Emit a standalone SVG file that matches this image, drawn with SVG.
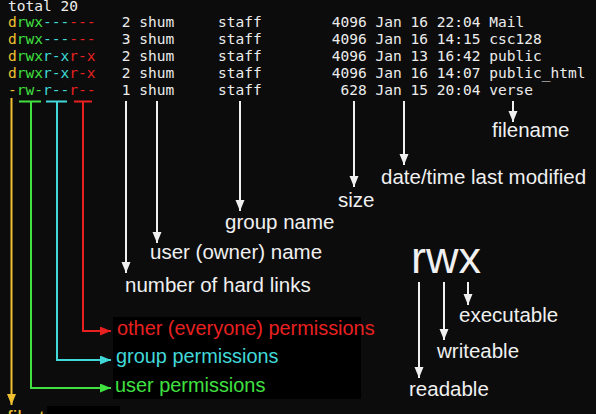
<svg xmlns="http://www.w3.org/2000/svg" width="596" height="414" viewBox="0 0 596 414">
<style>
.term{font-family:"DejaVu Sans Mono","Liberation Mono",monospace;font-size:14.53px;fill:#ececec}
.y{fill:#f0c030}.g{fill:#40e040}.c{fill:#40d8d8}.r{fill:#e82020}
.lbl{font-family:"Liberation Sans",Arial,sans-serif;font-size:20.5px;fill:#f0f0f0}
.wl{stroke:#f0f0f0;stroke-width:2;fill:none}
</style>
<defs>
<marker id="aw" markerUnits="userSpaceOnUse" markerWidth="12" markerHeight="10" refX="11" refY="4.5" orient="auto"><path d="M0,0 L11,4.5 L0,9 z" fill="#f0f0f0"/></marker>
<marker id="ay" markerUnits="userSpaceOnUse" markerWidth="12" markerHeight="10" refX="11" refY="4.5" orient="auto"><path d="M0,0 L11,4.5 L0,9 z" fill="#f0c030"/></marker>
<marker id="ag" markerUnits="userSpaceOnUse" markerWidth="12" markerHeight="10" refX="11" refY="4.5" orient="auto"><path d="M0,0 L11,4.5 L0,9 z" fill="#40e040"/></marker>
<marker id="ac" markerUnits="userSpaceOnUse" markerWidth="12" markerHeight="10" refX="11" refY="4.5" orient="auto"><path d="M0,0 L11,4.5 L0,9 z" fill="#40d8d8"/></marker>
<marker id="ar" markerUnits="userSpaceOnUse" markerWidth="12" markerHeight="10" refX="11" refY="4.5" orient="auto"><path d="M0,0 L11,4.5 L0,9 z" fill="#e82020"/></marker>
</defs>
<rect x="0" y="0" width="596" height="414" fill="#0c0c0c"/>
<rect x="113" y="317" width="248" height="82" fill="#000"/>
<rect x="47" y="406" width="73" height="8" fill="#000"/>

<g id="listing" class="term">
<text x="8" y="11">total 20</text>
<text y="26.7"><tspan x="8" class="y">d</tspan><tspan class="g">rwx</tspan><tspan class="c">---</tspan><tspan class="r">---</tspan><tspan x="121.75">2</tspan><tspan x="139.25">shum</tspan><tspan x="218">staff</tspan><tspan x="331.75">4096</tspan><tspan x="375.5">Jan</tspan><tspan x="410.5">16</tspan><tspan x="436.75">22:04</tspan><tspan x="489.25">Mail</tspan></text>
<text y="43.7"><tspan x="8" class="y">d</tspan><tspan class="g">rwx</tspan><tspan class="c">---</tspan><tspan class="r">---</tspan><tspan x="121.75">3</tspan><tspan x="139.25">shum</tspan><tspan x="218">staff</tspan><tspan x="331.75">4096</tspan><tspan x="375.5">Jan</tspan><tspan x="410.5">16</tspan><tspan x="436.75">14:15</tspan><tspan x="489.25">csc128</tspan></text>
<text y="60.7"><tspan x="8" class="y">d</tspan><tspan class="g">rwx</tspan><tspan class="c">r-x</tspan><tspan class="r">r-x</tspan><tspan x="121.75">2</tspan><tspan x="139.25">shum</tspan><tspan x="218">staff</tspan><tspan x="331.75">4096</tspan><tspan x="375.5">Jan</tspan><tspan x="410.5">13</tspan><tspan x="436.75">16:42</tspan><tspan x="489.25">public</tspan></text>
<text y="77.7"><tspan x="8" class="y">d</tspan><tspan class="g">rwx</tspan><tspan class="c">r-x</tspan><tspan class="r">r-x</tspan><tspan x="121.75">2</tspan><tspan x="139.25">shum</tspan><tspan x="218">staff</tspan><tspan x="331.75">4096</tspan><tspan x="375.5">Jan</tspan><tspan x="410.5">16</tspan><tspan x="436.75">14:07</tspan><tspan x="489.25">public_html</tspan></text>
<text y="94.7"><tspan x="8" class="y">-</tspan><tspan class="g">rw-</tspan><tspan class="c">r--</tspan><tspan class="r">r--</tspan><tspan x="121.75">1</tspan><tspan x="139.25">shum</tspan><tspan x="218">staff</tspan><tspan x="340.5">628</tspan><tspan x="375.5">Jan</tspan><tspan x="410.5">15</tspan><tspan x="436.75">20:04</tspan><tspan x="489.25">verse</tspan></text>
</g>

<g id="connectors">
<path d="M11.5,98 V405" stroke="#f0c030" stroke-width="2" fill="none" marker-end="url(#ay)"/>
<path d="M19,101.5 H41 M31,101.5 V388 H111" stroke="#40e040" stroke-width="2" fill="none" marker-end="url(#ag)"/>
<path d="M46,101.5 H67 M57,101.5 V360 H111" stroke="#40d8d8" stroke-width="2" fill="none" marker-end="url(#ac)"/>
<path d="M74,101.5 H92 M83,101.5 V331 H111" stroke="#e82020" stroke-width="2" fill="none" marker-end="url(#ar)"/>
<path class="wl" d="M126,101 V273" marker-end="url(#aw)"/>
<path class="wl" d="M157,101 V243" marker-end="url(#aw)"/>
<path class="wl" d="M240,101 V211" marker-end="url(#aw)"/>
<path class="wl" d="M354,101 V187" marker-end="url(#aw)"/>
<path class="wl" d="M404,101 V165" marker-end="url(#aw)"/>
<path class="wl" d="M513,101 V122" marker-end="url(#aw)"/>
<path class="wl" d="M419,282 V378" marker-end="url(#aw)"/>
<path class="wl" d="M444,282 V340" marker-end="url(#aw)"/>
<path class="wl" d="M468,282 V305" marker-end="url(#aw)"/>
</g>

<g id="labels" class="lbl">
<text id="filename" x="492" y="137">filename</text>
<text id="datetime" x="381" y="184">date/time last modified</text>
<text id="size" x="338" y="207">size</text>
<text id="group" x="225" y="229">group name</text>
<text id="user" x="150" y="259">user (owner) name</text>
<text id="links" x="125" y="292">number of hard links</text>
<text id="other-perm" x="117" y="335" style="fill:#e82020;font-size:19.9px">other (everyone) permissions</text>
<text id="group-perm" x="116" y="363" style="fill:#40d8d8;font-size:19.9px">group permissions</text>
<text id="user-perm" x="115" y="392" style="fill:#40e040;font-size:19.9px">user permissions</text>
<text id="filetype" x="7" y="425" style="fill:#f0c030">file type</text>
<text id="rwx" x="411" y="273" style="font-size:45px">rwx</text>
<text id="executable" x="459" y="322">executable</text>
<text id="writeable" x="437" y="358">writeable</text>
<text id="readable" x="409" y="396">readable</text>
</g>
</svg>
